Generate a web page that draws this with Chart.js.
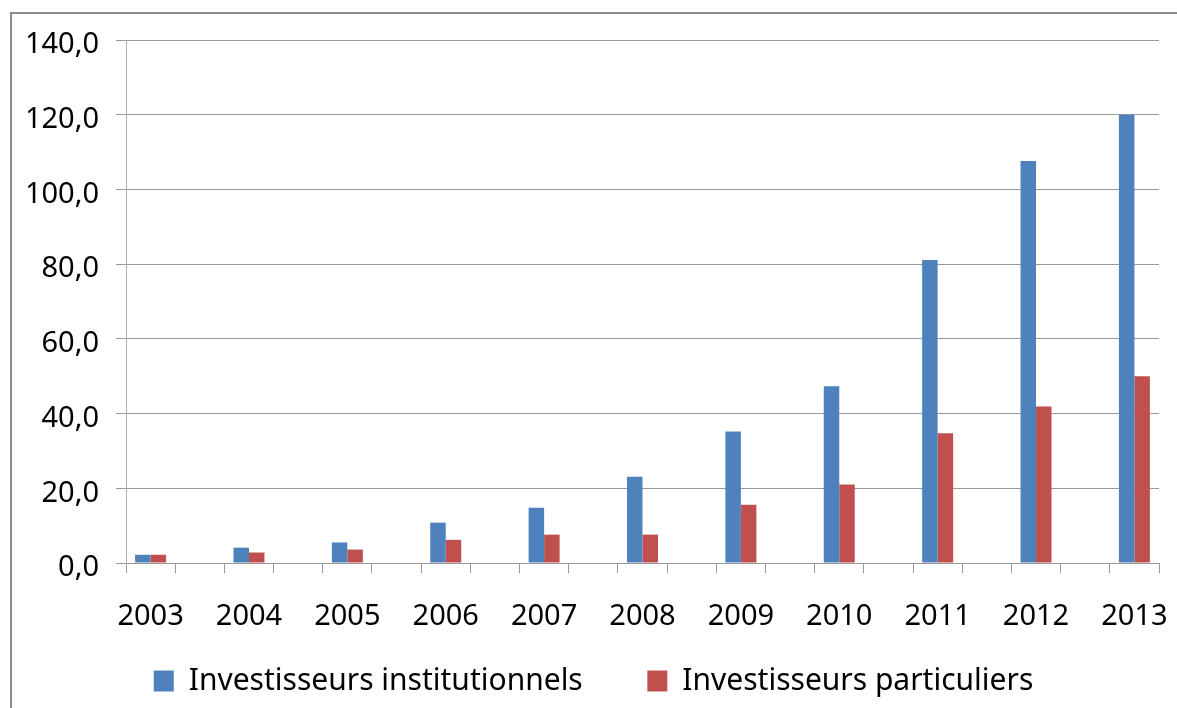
<!DOCTYPE html>
<html>
<head>
<meta charset="utf-8">
<script src="https://cdn.jsdelivr.net/npm/chart.js@4.4.1/dist/chart.umd.min.js"></script>
<style>
    html, body { margin: 0; padding: 0; background: #fff; overflow: hidden; }
    #wrap { position: relative; width: 1177px; height: 708px; }
    #frame { position: absolute; left: 10px; top: 12px; width: 1300px; height: 800px; border: 2px solid #8c8c8c; box-sizing: border-box; }
    canvas { position: absolute; left: 0; top: 0; }
</style>
</head>
<body>
<div id="wrap">
    <div id="frame"></div>
    <canvas id="chart" width="1177" height="708"></canvas>
</div>
<script>
// Données
const years = ['2003', '2004', '2005', '2006', '2007', '2008', '2009', '2010', '2011', '2012', '2013'];
const institutionnels = [2.2, 4.1, 5.5, 10.8, 14.8, 23.1, 35.2, 47.3, 81.1, 107.6, 120.0];
const particuliers = [2.2, 2.8, 3.6, 6.2, 7.6, 7.6, 15.6, 21.0, 34.7, 41.9, 50.0];
const yTicks = [0, 20, 40, 60, 80, 100, 120, 140];

// Une catégorie vide entre chaque année (comme dans le tableau Excel)
const labels = [];
const dataInst = [];
const dataPart = [];
years.forEach((y, i) => {
    labels.push(y);
    dataInst.push(institutionnels[i]);
    dataPart.push(particuliers[i]);
    if (i < years.length - 1) {
        labels.push('');
        dataInst.push(null);
        dataPart.push(null);
    }
});

const font = { family: '"Noto Sans", sans-serif', size: 29 };

new Chart(document.getElementById('chart'), {
    type: 'bar',
    data: {
        labels: labels,
        datasets: [{
            label: 'Investisseurs institutionnels',
            data: dataInst,
            backgroundColor: '#4F81BD',
            categoryPercentage: 0.63,
            barPercentage: 1
        }, {
            label: 'Investisseurs particuliers',
            data: dataPart,
            backgroundColor: '#C0504D',
            categoryPercentage: 0.63,
            barPercentage: 1
        }]
    },
    options: {
        responsive: false,
        animation: false,
        layout: { padding: { left: 28, right: 18, top: 40, bottom: 2 } },
        plugins: {
            tooltip: { enabled: false },
            legend: {
                position: 'bottom',
                labels: {
                    color: '#000',
                    font: { family: '"Noto Sans", sans-serif', size: 30 },
                    boxWidth: 20,
                    boxHeight: 21,
                    padding: 10,
                    generateLabels: (chart) => {
                        const items = Chart.defaults.plugins.legend.labels.generateLabels(chart);
                        // espace entre les deux entrées de la légende
                        items[0].text += '\u00a0'.repeat(7);
                        return items;
                    }
                }
            }
        },
        scales: {
            x: {
                offset: true,
                grid: { display: true, drawOnChartArea: false, offset: true, tickLength: 10, color: '#999', lineWidth: 1 },
                border: { color: '#999', width: 1 },
                ticks: { color: '#000', font: font, padding: 26, maxRotation: 0, autoSkip: false },
                afterFit: (scale) => {
                    scale.height = 93;
                    // le libellé 2013 ne doit pas rétrécir la zone de tracé
                    scale.paddingLeft = 0;
                    scale.paddingRight = 0;
                }
            },
            y: {
                min: 0,
                max: 140,
                afterBuildTicks: (scale) => { scale.ticks = yTicks.map(v => ({ value: v })); },
                grid: { color: '#999', lineWidth: 1, tickLength: 10 },
                border: { color: '#b0b0b0', width: 1 },
                ticks: {
                    color: '#000',
                    font: font,
                    padding: 17,
                    labelOffset: 5,
                    callback: (v) => v.toFixed(1).replace('.', ',')
                },
                afterFit: (scale) => { scale.width = 98; }
            }
        }
    }
});
</script>
</body>
</html>
